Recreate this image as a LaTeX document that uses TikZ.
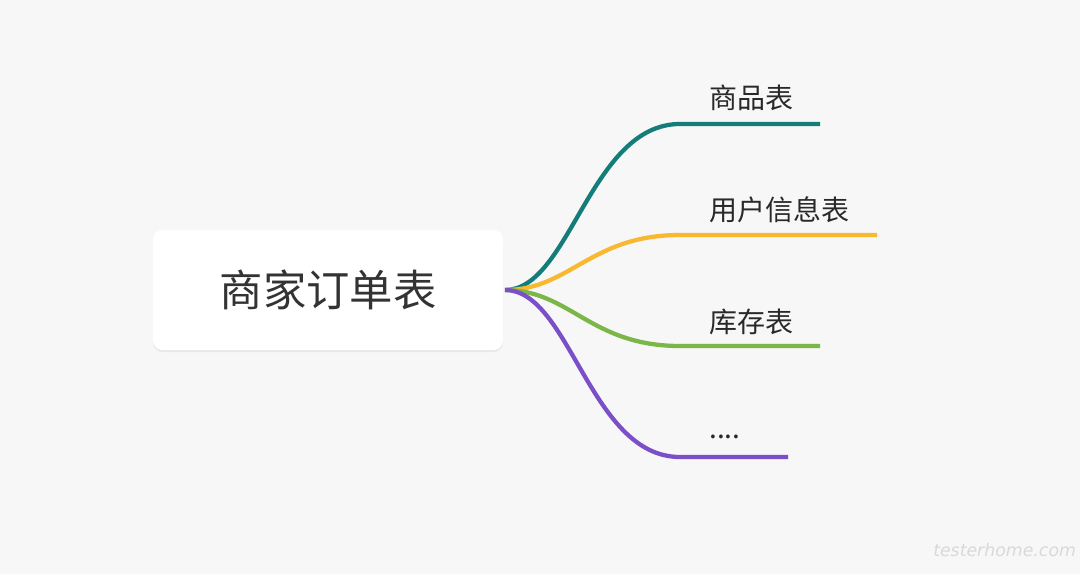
\documentclass[tikz,border=0pt]{standalone}
\usepackage{fontspec}
\newfontfamily\cjk{Noto Sans CJK SC}
\newfontfamily\wm{DejaVu Sans}
\usetikzlibrary{shadows}
\definecolor{bg}{HTML}{F7F7F7}
\definecolor{cteal}{HTML}{147D7A}
\definecolor{cyellow}{HTML}{F8B830}
\definecolor{cgreen}{HTML}{7AB648}
\definecolor{cpurple}{HTML}{7B4FC8}
\definecolor{ctext}{HTML}{333333}
\begin{document}
\begin{tikzpicture}[x=0.75pt,y=-0.75pt,
  branch/.style={line width=3.2pt},
  lbl/.style={anchor=west,inner sep=0pt,font=\cjk\fontsize{21}{25}\selectfont,text=ctext!80!black},
  rootbox/.style={fill=white,rounded corners=7pt,minimum width=262.5pt,minimum height=90pt,
    font=\cjk\fontsize{32.5}{38}\selectfont,text=ctext,
    drop shadow={shadow xshift=0pt,shadow yshift=-1.5pt,opacity=0.12}}]
\fill[bg] (0,0) rectangle (1080,574);
\useasboundingbox (0,0) rectangle (1080,574);
\node[rootbox] (root) at (328,290) {商家订单表};
\coordinate (o) at (505,290);
\coordinate (e1) at (820,124);
\coordinate (e2) at (877,235);
\coordinate (e3) at (820,346);
\coordinate (e4) at (788,457);
\node[lbl] (l1) at (709,98) {商品表};
\node[lbl] (l2) at (709,210) {用户信息表};
\node[lbl] (l3) at (709,322) {库存表};
\node[lbl] (l4) at (709,437) {....};
\draw[branch,cteal] (o) .. controls (570,290) and (590,124) .. (680,124) -- (e1);
\draw[branch,cyellow] (o) .. controls (570,290) and (590,235) .. (680,235) -- (e2);
\draw[branch,cgreen] (o) .. controls (570,290) and (590,346) .. (680,346) -- (e3);
\draw[branch,cpurple] (o) .. controls (570,290) and (590,457) .. (680,457) -- (e4);
\node[anchor=west,inner sep=0pt,font=\wm\itshape\fontsize{13}{15}\selectfont,text=black!15] (wm) at (933,550) {testerhome.com};
\end{tikzpicture}
\end{document}
